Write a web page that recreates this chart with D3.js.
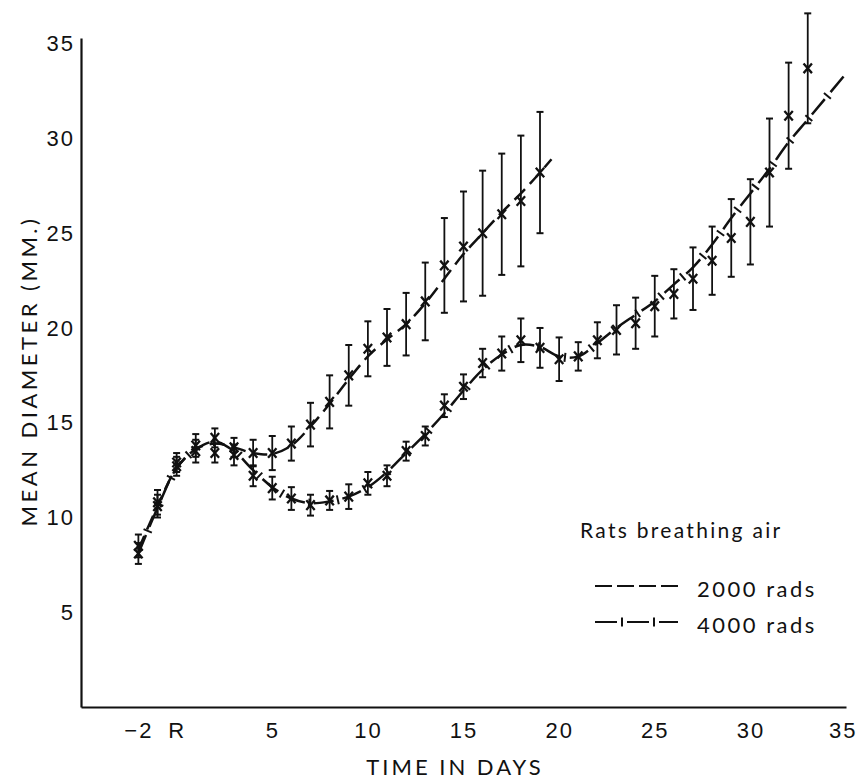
<!DOCTYPE html>
<html>
<head>
<meta charset="utf-8">
<script src="https://cdn.jsdelivr.net/npm/d3@7"></script>
<style>
  body { margin: 0; background: #fff; }
  svg { display: block; font-family: Lato, 'Open Sans', sans-serif; }
  .axis text { font-size: 22px; fill: #111; letter-spacing: 2px; }
  .axis path { stroke: #111; stroke-width: 2.2px; }
</style>
</head>
<body>
<svg width="859" height="782"></svg>
<script>
'use strict'

// measured points (mean diameter, mm) and half error bars
const days2000 = [-2, -1, 0, 1, 2, 3, 4, 5, 6, 7, 8, 9, 10, 11, 12, 13, 14, 15, 16, 17, 18, 19]
const mean2000 = [8.5, 10.8, 12.9, 13.8, 14.2, 13.7, 13.4, 13.4, 13.9, 14.9, 16.1, 17.5, 18.9, 19.5, 20.2, 21.4, 23.3, 24.3, 25.0, 26.0, 26.7, 28.2]
const err2000 = [0.6, 0.65, 0.5, 0.6, 0.5, 0.5, 0.7, 0.9, 0.9, 1.15, 1.4, 1.6, 1.45, 1.5, 1.65, 2.05, 2.5, 2.9, 3.3, 3.2, 3.45, 3.2]

const days4000 = [-2, -1, 0, 1, 2, 3, 4, 5, 6, 7, 8, 9, 10, 11, 12, 13, 14, 15, 16, 17, 18, 19, 20, 21, 22, 23, 24, 25, 26, 27, 28, 29, 30, 31, 32, 33]
const mean4000 = [8.1, 10.6, 12.7, 13.5, 13.4, 13.3, 12.2, 11.55, 11.0, 10.65, 10.9, 11.1, 11.8, 12.2, 13.5, 14.3, 15.9, 16.9, 18.15, 18.65, 19.35, 18.95, 18.35, 18.5, 19.35, 19.9, 20.25, 21.15, 21.8, 22.6, 23.55, 24.75, 25.6, 28.2, 31.2, 33.7]
const err4000 = [0.55, 0.6, 0.5, 0.6, 0.5, 0.55, 0.55, 0.6, 0.6, 0.55, 0.5, 0.65, 0.6, 0.55, 0.5, 0.5, 0.6, 0.65, 0.75, 0.9, 1.15, 1.05, 1.15, 0.75, 0.95, 1.3, 1.35, 1.6, 1.3, 1.65, 1.8, 2.05, 2.25, 2.85, 2.8, 2.9]

// fitted curves drawn through the points
const curve2000 = [[-2, 8.3], [-1, 10.6], [0, 12.6], [1, 13.6], [2, 13.9], [3, 13.7], [4, 13.4], [5, 13.35], [6, 13.8], [7, 14.8], [8, 16.0], [9, 17.3], [10, 18.5], [11, 19.4], [12, 20.2], [13, 21.3], [14, 22.6], [15, 23.9], [16, 25.0], [17, 26.1], [18, 27.1], [19, 28.2], [19.6, 28.9]]
const curve4000 = [[-2, 8.1], [-1, 10.5], [0, 12.6], [1, 13.6], [2, 14.0], [3, 13.5], [4, 12.5], [5, 11.6], [6, 11.0], [7, 10.75], [8, 10.85], [9, 11.1], [10, 11.6], [11, 12.4], [12, 13.4], [13, 14.4], [14, 15.5], [15, 16.7], [16, 17.8], [17, 18.6], [18, 19.1], [19, 19.0], [20, 18.5], [21, 18.5], [22, 19.2], [23, 20.0], [24, 20.7], [25, 21.4], [26, 22.3], [27, 23.2], [28, 24.4], [29, 25.8], [30, 27.1], [31, 28.4], [32, 29.8], [33, 31.0], [34.9, 33.3]]

const xTicks = [-2, 0, 5, 10, 15, 20, 25, 30, 35]
const yTicks = [5, 10, 15, 20, 25, 30, 35]
const legendTitle = 'Rats breathing air'
const legendLabels = ['2000 rads', '4000 rads']

const ink = '#111'
const svg = d3.select('svg')

const x = d3.scaleLinear().domain([-5, 35]).range([81, 846])
const y = d3.scaleLinear().domain([0, 35.3]).range([707, 38])

const xAxis = svg.append('g')
  .attr('class', 'axis')
  .attr('transform', 'translate(0,707)')
  .call(d3.axisBottom(x)
    .tickValues(xTicks)
    .tickSize(0)
    .tickPadding(15)
    .tickFormat(d => d === 0 ? 'R' : d < 0 ? '\u2212' + Math.abs(d) : d))

// last label sits against the right edge, as in the original
xAxis.selectAll('.tick text')
  .filter(d => d === 35)
  .attr('text-anchor', 'end')
  .attr('dx', 11)

svg.append('g')
  .attr('class', 'axis')
  .attr('transform', 'translate(81,0)')
  .call(d3.axisLeft(y).tickValues(yTicks).tickSize(0).tickPadding(6))

svg.append('text')
  .attr('x', 455).attr('y', 775)
  .attr('text-anchor', 'middle')
  .style('font-size', '22px').style('letter-spacing', '3px').style('fill', ink)
  .text('TIME IN DAYS')

svg.append('text')
  .attr('transform', 'translate(37,371) rotate(-90)')
  .attr('text-anchor', 'middle')
  .style('font-size', '22px').style('letter-spacing', '3.5px').style('fill', ink)
  .text('MEAN DIAMETER (MM.)')

const line = d3.line()
  .x(d => x(d[0]))
  .y(d => y(d[1]))
  .curve(d3.curveCatmullRom)

// small strokes across the gaps of a dashed path
function gapTicks(path, first, period, len) {
  const node = path.node()
  const total = node.getTotalLength()
  const g = svg.append('g').attr('stroke', ink).attr('stroke-width', 2)
  for (let L = first; L < total - 2; L += period) {
    const a = node.getPointAtLength(Math.max(0, L - 1))
    const b = node.getPointAtLength(Math.min(total, L + 1))
    const p = node.getPointAtLength(L)
    const ang = Math.atan2(b.y - a.y, b.x - a.x)
    const nx = -Math.sin(ang) * len / 2, ny = Math.cos(ang) * len / 2
    g.append('line')
      .attr('x1', p.x - nx).attr('y1', p.y - ny)
      .attr('x2', p.x + nx).attr('y2', p.y + ny)
  }
}

svg.append('path')
  .datum(curve2000)
  .attr('d', line)
  .attr('fill', 'none')
  .attr('stroke', ink)
  .attr('stroke-width', 2.5)
  .attr('stroke-dasharray', '15,7')

const path4000 = svg.append('path')
  .datum(curve4000)
  .attr('d', line)
  .attr('fill', 'none')
  .attr('stroke', ink)
  .attr('stroke-width', 2.5)
  .attr('stroke-dasharray', '20,9')
gapTicks(path4000, 24.5, 29, 9)

function drawPoints(days, means, errs) {
  const pts = days.map((d, i) => ({ day: d, mean: means[i], err: errs[i] }))
  const g = svg.append('g').attr('stroke', ink).attr('fill', 'none')
  const cap = 3.5, sx = 4.2, sy = 4.8

  const bars = g.selectAll('g.bar').data(pts).join('g').attr('class', 'bar')
  bars.append('line')
    .attr('x1', d => x(d.day)).attr('x2', d => x(d.day))
    .attr('y1', d => y(d.mean + d.err)).attr('y2', d => y(d.mean - d.err))
    .attr('stroke-width', 1.8)
  bars.append('line')
    .attr('x1', d => x(d.day) - cap).attr('x2', d => x(d.day) + cap)
    .attr('y1', d => y(d.mean + d.err)).attr('y2', d => y(d.mean + d.err))
    .attr('stroke-width', 2)
  bars.append('line')
    .attr('x1', d => x(d.day) - cap).attr('x2', d => x(d.day) + cap)
    .attr('y1', d => y(d.mean - d.err)).attr('y2', d => y(d.mean - d.err))
    .attr('stroke-width', 2)
  bars.append('path')
    .attr('d', d => {
      const cx = x(d.day), cy = y(d.mean)
      return `M${cx - sx},${cy - sy}L${cx + sx},${cy + sy}M${cx + sx},${cy - sy}L${cx - sx},${cy + sy}`
    })
    .attr('stroke-width', 2.3)
}

drawPoints(days2000, mean2000, err2000)
drawPoints(days4000, mean4000, err4000)

// legend
const leg = svg.append('g').style('fill', ink)
leg.append('text')
  .attr('x', 580).attr('y', 538)
  .style('font-size', '21px').style('letter-spacing', '2.3px')
  .text(legendTitle)

const legRows = [597, 633]
leg.selectAll('text.lab').data(legendLabels).join('text')
  .attr('class', 'lab')
  .attr('x', 697).attr('y', (d, i) => legRows[i])
  .style('font-size', '22px').style('letter-spacing', '2.5px')
  .text(d => d)

svg.append('line')
  .attr('x1', 595).attr('x2', 678).attr('y1', 586).attr('y2', 586)
  .attr('stroke', ink).attr('stroke-width', 2.2)
  .attr('stroke-dasharray', '17,5')

const legPath = svg.append('path')
  .attr('d', d3.line()([[595, 622], [678, 622]]))
  .attr('stroke', ink).attr('stroke-width', 2.2)
  .attr('stroke-dasharray', '22,10')
gapTicks(legPath, 27, 32, 9)
</script>
</body>
</html>
